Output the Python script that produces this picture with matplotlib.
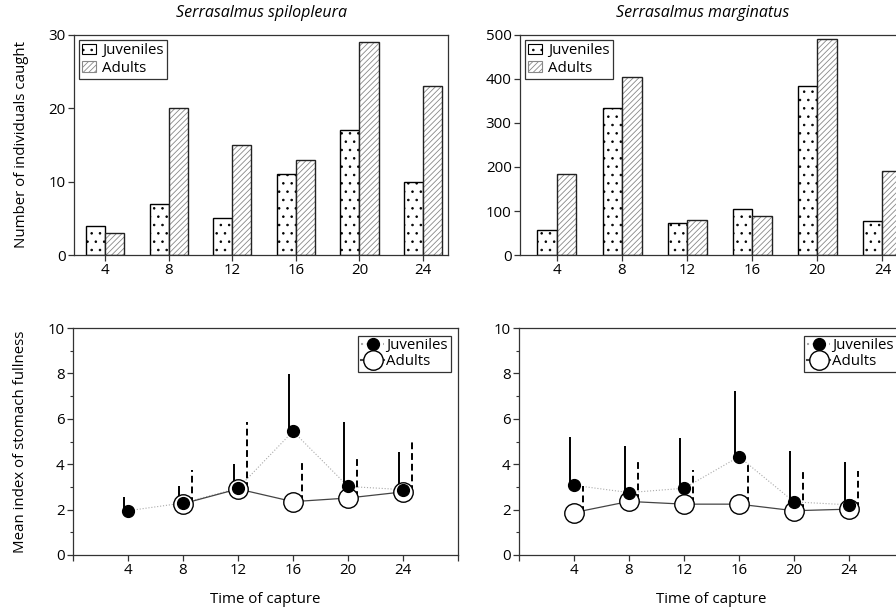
import numpy as np
import matplotlib
matplotlib.use("Agg")
import matplotlib.pyplot as plt
from matplotlib.lines import Line2D
from matplotlib.patches import Patch

plt.rcParams['font.family'] = ['Open Sans', 'DejaVu Sans']
plt.rcParams['hatch.linewidth'] = 0.6

hours = [4, 8, 12, 16, 20, 24]
species = ["Serrasalmus spilopleura", "Serrasalmus marginatus"]

# Top: numbers caught
spil_juv_n = [4, 7, 5, 11, 17, 10]
spil_adu_n = [3, 20, 15, 13, 29, 23]
marg_juv_n = [57, 334, 73, 105, 383, 78]
marg_adu_n = [183, 405, 79, 88, 490, 192]

# Bottom: mean stomach fullness and upper SD
spil_juv_m = [1.95, 2.29, 2.94, 5.45, 3.02, 2.88]
spil_juv_up = [2.55, 3.02, 4.0, 7.99, 5.84, 4.52]
spil_adu_m = [np.nan, 2.26, 2.91, 2.35, 2.51, 2.78]
spil_adu_up = [np.nan, 3.76, 5.84, 4.08, 4.24, 5.05]

marg_juv_m = [3.07, 2.75, 2.94, 4.33, 2.34, 2.21]
marg_juv_up = [5.2, 4.8, 5.14, 7.22, 4.58, 4.11]
marg_adu_m = [1.87, 2.36, 2.24, 2.24, 1.95, 2.02]
marg_adu_up = [3.05, 4.1, 3.75, 4.07, 3.66, 3.7]

fig = plt.figure(figsize=(8.96, 6.12), dpi=100)

spine_col = '#333333'
fs = 10.8

def style(ax):
    for s in ax.spines.values():
        s.set_color(spine_col)
        s.set_linewidth(0.9)
    ax.tick_params(axis='both', direction='out', length=4, width=0.9,
                   color=spine_col, labelsize=fs, pad=2)

x = np.array(hours, dtype=float)
bw = 1.2

def bars(ax, juv, adu, ylim, yticks, xlim, title):
    ax.bar(x - bw / 2, juv, width=bw, color='white', edgecolor='black',
           hatch='..', linewidth=1.0)
    ax.bar(x + bw / 2, adu, width=bw, color='white', edgecolor='#888888',
           hatch='//////', linewidth=0)
    ax.bar(x + bw / 2, adu, width=bw, fill=False, edgecolor='#222222',
           linewidth=1.0)
    ax.set_xlim(*xlim)
    ax.set_ylim(*ylim)
    ax.set_yticks(yticks)
    ax.set_xticks(hours)
    style(ax)
    ax.set_title(title, fontsize=11.5, style='italic', pad=13)
    h = [Patch(facecolor='white', edgecolor='black', hatch='..', linewidth=0.8),
         Patch(facecolor='white', edgecolor='#888888', hatch='//////', linewidth=0.8)]
    leg = ax.legend(h, ['Juveniles', 'Adults'], loc='upper left', fontsize=fs,
                    frameon=True, fancybox=False, handlelength=0.9,
                    handleheight=0.7, handletextpad=0.4, borderpad=0.25,
                    labelspacing=0.15, borderaxespad=0.3)
    leg.get_frame().set_edgecolor('black')
    leg.get_frame().set_linewidth(0.9)

def means(ax, jm, ju, am, au):
    jm = np.array(jm); ju = np.array(ju); am = np.array(am); au = np.array(au)
    ax.plot(x, jm, linestyle=':', color='#aaaaaa', linewidth=0.8, zorder=2)
    ax.plot(x, am, linestyle='-', color='#444444', linewidth=0.9, zorder=2)
    ax.vlines(x - 0.32, jm, ju, colors='black', linewidth=1.4, zorder=3)
    ax.vlines(x + 0.62, am, au, colors='black', linewidth=1.4,
              linestyles=(0, (3.5, 2)), zorder=3)
    ax.plot(x, am, linestyle='none', marker='o', markersize=14,
            markerfacecolor='white', markeredgecolor='black',
            markeredgewidth=1.0, zorder=4)
    ax.plot(x, jm, linestyle='none', marker='o', markersize=8.5,
            color='black', zorder=5)
    ax.set_xlim(0, 28)
    ax.set_ylim(0, 10)
    ax.set_xticks([0, 4, 8, 12, 16, 20, 24, 28])
    ax.set_xticklabels(['', '4', '8', '12', '16', '20', '24', ''])
    ax.set_yticks([0, 2, 4, 6, 8, 10])
    ax.set_yticks([1, 3, 5, 7, 9], minor=True)
    style(ax)
    ax.tick_params(axis='y', which='minor', direction='out', length=2,
                   width=0.8, color=spine_col)
    ax.set_xlabel('Time of capture', fontsize=fs, labelpad=10)
    h = [Line2D([], [], linestyle=':', color='#aaaaaa', marker='o',
                markersize=8.5, markerfacecolor='black', markeredgecolor='black'),
         Line2D([], [], linestyle='-', color='#444444', marker='o',
                markersize=14, markerfacecolor='white', markeredgecolor='black')]
    leg = ax.legend(h, ['Juveniles', 'Adults'], loc='upper right', fontsize=fs,
                    frameon=True, fancybox=False, handlelength=1.5,
                    handletextpad=0.15, borderpad=0.2, labelspacing=0.05,
                    borderaxespad=0.5)
    leg.get_frame().set_edgecolor('black')
    leg.get_frame().set_linewidth(0.9)

ax1 = fig.add_axes([74 / 896, 1 - 255 / 612, 374 / 896, 220 / 612])
bars(ax1, spil_juv_n, spil_adu_n, (0, 30), [0, 10, 20, 30], (2.05, 25.57), species[0])
ax1.set_ylabel('Number of individuals caught', fontsize=fs, labelpad=14)

ax2 = fig.add_axes([520 / 896, 1 - 255 / 612, 388 / 896, 220 / 612])
bars(ax2, marg_juv_n, marg_adu_n, (0, 500), [0, 100, 200, 300, 400, 500], (1.73, 25.57), species[1])
ax2.title.set_position((0.47, 1.0))

ax3 = fig.add_axes([73 / 896, 1 - 555 / 612, 385 / 896, 227 / 612])
means(ax3, spil_juv_m, spil_juv_up, spil_adu_m, spil_adu_up)
ax3.set_ylabel('Mean index of stomach fullness', fontsize=fs, labelpad=14)

ax4 = fig.add_axes([519 / 896, 1 - 555 / 612, 385 / 896, 227 / 612])
means(ax4, marg_juv_m, marg_juv_up, marg_adu_m, marg_adu_up)

fig.savefig('out.png', dpi=100)
